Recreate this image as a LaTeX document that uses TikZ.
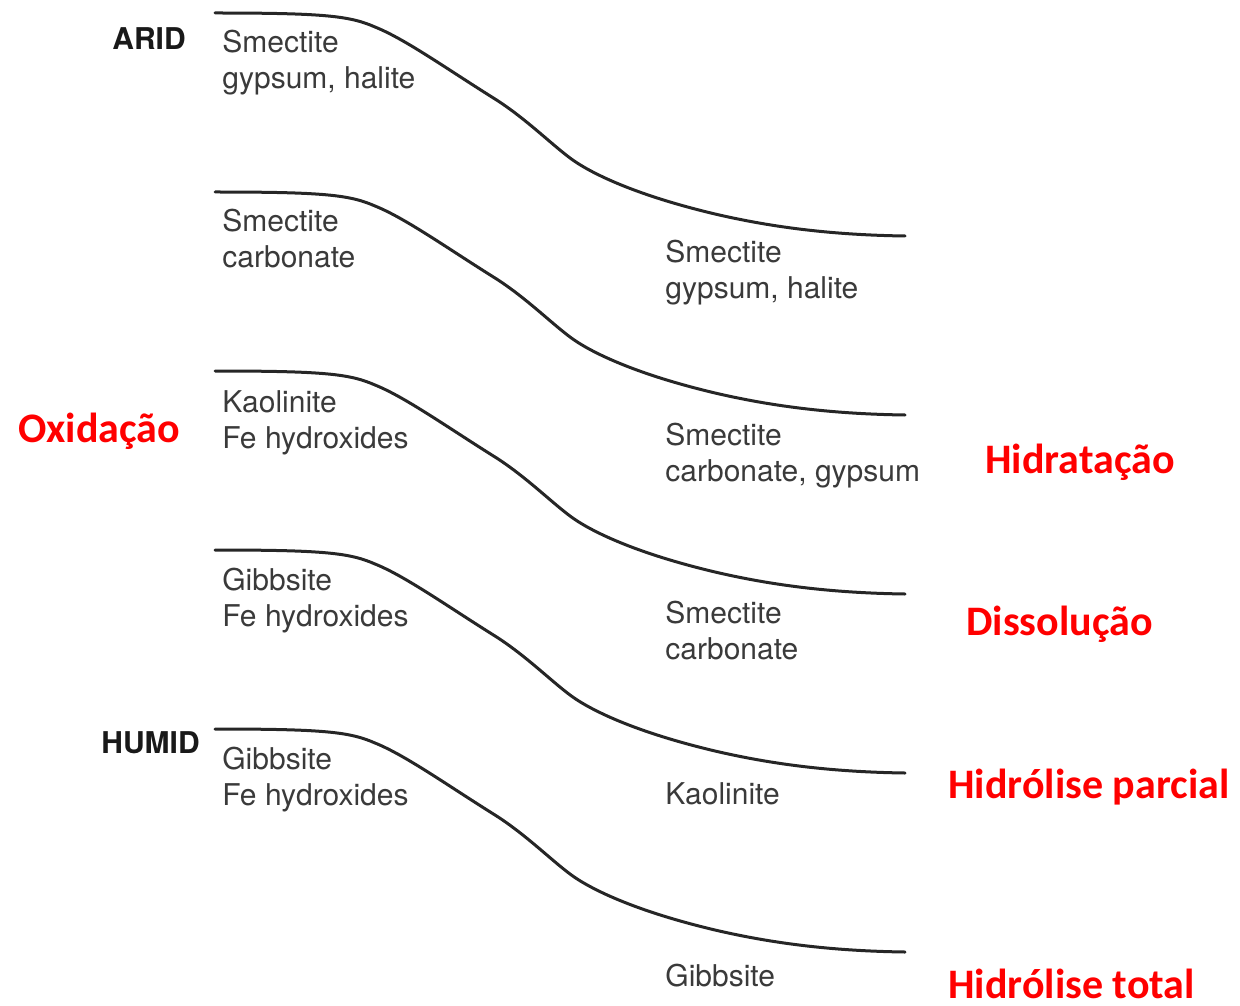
\documentclass[tikz,border=0pt]{standalone}
\usepackage{fontspec}
\setmainfont{TeX Gyre Heros}
\newfontfamily\procfont{Carlito}
\usetikzlibrary{positioning}
\definecolor{inkgray}{HTML}{3A3A3A}
\definecolor{procred}{HTML}{FF0000}

\begin{document}
\begin{tikzpicture}[x=0.5pt,y=-0.5pt,
  profile/.style={line width=1.5pt,draw=black!85,line cap=round},
  mineral/.style={anchor=base west,align=left,inner sep=0pt,text=inkgray,font=\fontsize{15}{18}\selectfont},
  climate/.style={anchor=base west,inner sep=0pt,text=black!90,font=\fontsize{15}{18}\selectfont\bfseries},
  process/.style={anchor=base west,inner sep=0pt,text=procred,font=\fontsize{21}{25}\selectfont\procfont\bfseries}]
\useasboundingbox (0,0) rectangle (1240,1005);

% weathering profiles
\foreach \i in {0,...,4}{
  \begin{scope}[shift={(215,13+179*\i)}]
    \coordinate (s\i) at (0,0);
    \coordinate (e\i) at (690,223);
    \draw[profile] (s\i) .. controls (110,0) and (135,3) .. (160,14)
      .. controls (190,26) and (232,56) .. (280,86)
      .. controls (310,105) and (335,130) .. (355,145)
      .. controls (375,160) and (420,182) .. (500,201)
      .. controls (560,215) and (620,222) .. (e\i);
  \end{scope}
}

\node[climate] (arid) at (112,50) {ARID};
\node[climate] (humid) at (101,753) {HUMID};

% upslope (base = last line)
\node[mineral] (L1) at (222,89) {Smectite\\gypsum, halite};
\node[mineral] (L2) at (222,268) {Smectite\\carbonate};
\node[mineral] (L3) at (222,448) {Kaolinite\\Fe hydroxides};
\node[mineral] (L4) at (222,626) {Gibbsite\\Fe hydroxides};
\node[mineral] (L5) at (222,805) {Gibbsite\\Fe hydroxides};

% downslope
\node[mineral] (R1) at (665,299) {Smectite\\gypsum, halite};
\node[mineral] (R2) at (665,481) {Smectite\\carbonate, gypsum};
\node[mineral] (R3) at (665,659) {Smectite\\carbonate};
\node[mineral] (R4) at (665,804) {Kaolinite};
\node[mineral] (R5) at (665,986) {Gibbsite};

% processes
\node[process] (oxi) at (18,442) {Oxidação};
\node[process] (hyd) at (985,473) {Hidratação};
\node[process] (dis) at (966,635) {Dissolução};
\node[process] (hpa) at (948,798) {Hidrólise parcial};
\node[process] (hto) at (948,998) {Hidrólise total};
\end{tikzpicture}
\end{document}
